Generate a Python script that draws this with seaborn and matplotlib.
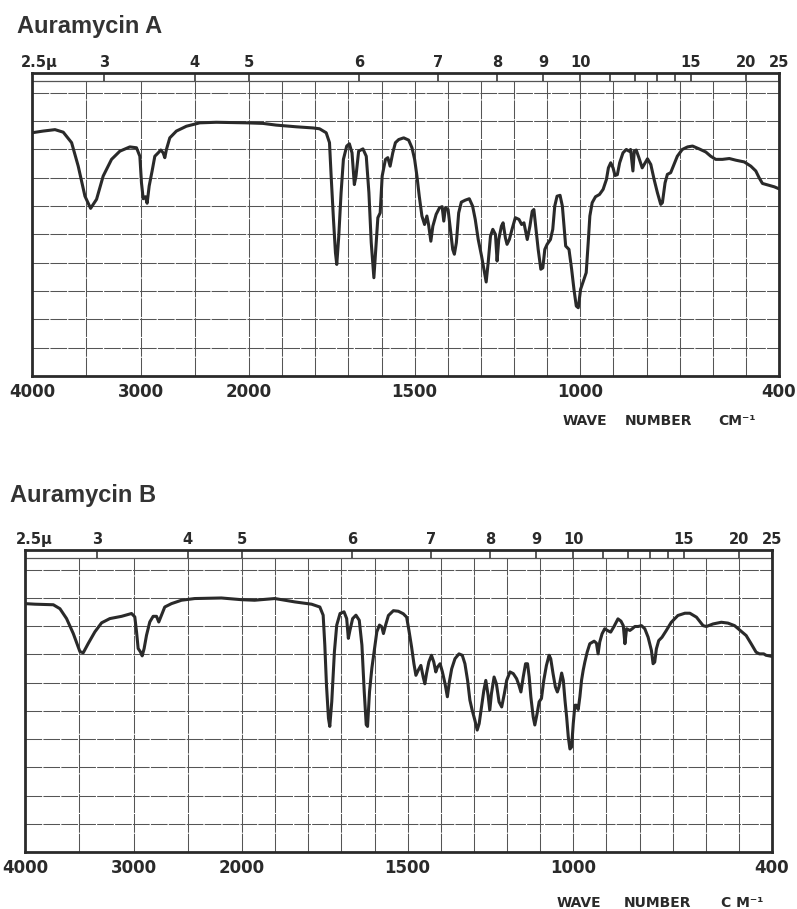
import numpy as np
import pandas as pd
import matplotlib
matplotlib.use("Agg")
import matplotlib.pyplot as plt
import seaborn as sns

# Infrared spectra: wavenumber (cm-1) and percent transmittance
a_wavenumber = [
    4000, 3896, 3788, 3712, 3635, 3574, 3512, 3460, 3405, 3344, 3267, 3190, 3098, 3037,
    3006, 2991, 2975, 2954, 2939, 2920, 2893, 2868, 2837, 2813, 2791, 2776, 2761, 2730,
    2669, 2577, 2454, 2301, 2025, 1958, 1918, 1857, 1807, 1787, 1767, 1757, 1752, 1745,
    1739, 1735, 1729, 1722, 1715, 1705, 1697, 1689, 1682, 1677, 1669, 1656, 1646, 1638,
    1631, 1623, 1616, 1611, 1604, 1598, 1588, 1581, 1574, 1566, 1558, 1548, 1533, 1518,
    1508, 1500, 1493, 1486, 1478, 1470, 1463, 1458, 1451, 1445, 1435, 1425, 1417, 1412,
    1407, 1399, 1392, 1385, 1380, 1374, 1367, 1359, 1347, 1335, 1325, 1317, 1308, 1298,
    1291, 1284, 1278, 1271, 1264, 1256, 1251, 1246, 1238, 1233, 1226, 1221, 1214, 1206,
    1196, 1185, 1177, 1170, 1160, 1152, 1145, 1140, 1135, 1127, 1119, 1113, 1107, 1100,
    1090, 1083, 1077, 1070, 1061, 1054, 1049, 1044, 1034, 1026, 1019, 1012, 1006, 999,
    989, 982, 976, 971, 964, 954, 942, 931, 921, 915, 908, 901, 895, 888, 881, 871, 861,
    853, 848, 841, 837, 831, 823, 813, 804, 797, 787, 777, 767, 757, 752, 744, 737, 727,
    717, 707, 692, 676, 661, 641, 621, 606, 591, 571, 550, 530, 505, 485, 470, 460, 450,
    429, 414, 400,
]
a_transmittance = [
    85.9, 86.5, 87.0, 86.1, 82.4, 74.1, 63.5, 59.2, 62.4, 70.6, 76.5, 79.4, 80.9, 80.6,
    77.6, 68.2, 62.6, 63.3, 61.0, 67.1, 72.4, 77.6, 78.8, 79.8, 78.8, 77.1, 80.0, 84.1,
    86.5, 88.2, 89.4, 89.6, 89.4, 89.2, 88.6, 88.0, 87.6, 87.3, 85.9, 82.4, 70.6, 55.3,
    43.5, 39.4, 49.4, 64.7, 76.5, 81.2, 82.0, 78.8, 67.6, 70.6, 79.4, 80.2, 77.6, 64.7,
    47.1, 34.7, 47.1, 55.9, 57.6, 70.6, 76.5, 77.1, 74.1, 78.8, 82.4, 83.5, 84.1, 83.3,
    80.6, 76.5, 70.6, 63.5, 56.5, 53.5, 56.5, 53.5, 47.6, 52.9, 57.1, 59.4, 59.8, 54.7,
    59.4, 58.8, 51.8, 44.7, 43.0, 47.1, 57.6, 61.4, 62.1, 62.6, 60.0, 55.3, 48.2, 42.4,
    37.7, 33.2, 40.0, 49.4, 51.8, 50.0, 40.6, 48.2, 52.9, 54.1, 48.8, 46.5, 48.2, 51.8,
    55.9, 55.3, 53.5, 54.1, 48.2, 52.9, 58.2, 58.8, 53.5, 44.7, 37.7, 38.2, 44.7, 46.5,
    48.2, 51.8, 60.0, 63.5, 63.8, 60.0, 52.9, 45.9, 44.7, 37.7, 30.6, 24.7, 24.1, 30.6,
    34.1, 36.5, 47.1, 56.5, 61.2, 63.3, 64.1, 65.9, 69.4, 73.5, 75.3, 73.5, 70.8, 71.1,
    75.3, 78.8, 80.0, 79.4, 80.0, 72.4, 79.4, 79.8, 77.1, 73.5, 75.3, 76.7, 74.7, 69.4,
    64.7, 60.6, 61.2, 68.2, 71.2, 71.8, 74.7, 77.6, 80.0, 80.9, 81.2, 80.2, 79.1, 77.6,
    76.5, 76.5, 76.8, 76.2, 75.6, 74.1, 72.4, 70.0, 68.0, 67.3, 66.8, 66.1,
]

b_wavenumber = [
    4000, 3908, 3739, 3678, 3617, 3555, 3494, 3463, 3417, 3356, 3294, 3218, 3110, 3018,
    2988, 2972, 2957, 2936, 2920, 2902, 2880, 2850, 2819, 2788, 2767, 2748, 2712, 2650,
    2558, 2436, 2190, 2006, 1962, 1901, 1840, 1790, 1765, 1755, 1750, 1745, 1739, 1735,
    1729, 1721, 1714, 1704, 1692, 1684, 1679, 1674, 1666, 1656, 1646, 1638, 1631, 1625,
    1621, 1615, 1608, 1600, 1593, 1585, 1578, 1573, 1566, 1558, 1543, 1528, 1513, 1503,
    1496, 1488, 1481, 1475, 1468, 1460, 1453, 1448, 1443, 1436, 1428, 1421, 1415, 1410,
    1402, 1395, 1387, 1380, 1374, 1367, 1357, 1345, 1335, 1327, 1319, 1312, 1305, 1297,
    1290, 1284, 1277, 1270, 1264, 1257, 1252, 1247, 1239, 1232, 1224, 1216, 1208, 1201,
    1191, 1181, 1171, 1164, 1158, 1151, 1144, 1138, 1133, 1128, 1121, 1116, 1109, 1103,
    1096, 1089, 1081, 1073, 1068, 1061, 1054, 1048, 1043, 1035, 1030, 1025, 1020, 1015,
    1010, 1005, 1000, 995, 990, 985, 980, 975, 970, 965, 958, 950, 937, 930, 925, 920,
    913, 905, 897, 887, 877, 865, 856, 849, 844, 839, 829, 822, 814, 804, 794, 784, 774,
    764, 759, 754, 749, 742, 732, 719, 704, 684, 663, 648, 628, 608, 598, 578, 553, 533,
    513, 498, 478, 463, 448, 438, 425, 418, 400,
]
b_transmittance = [
    88.0, 87.8, 87.6, 86.2, 82.7, 77.4, 71.0, 70.6, 73.9, 78.0, 81.2, 82.7, 83.5, 84.5,
    83.3, 78.0, 72.1, 70.9, 69.5, 72.1, 76.8, 81.5, 83.5, 83.5, 81.5, 83.3, 86.8, 88.0,
    89.2, 89.8, 90.0, 89.4, 89.2, 89.8, 88.6, 87.8, 86.8, 83.9, 73.3, 59.2, 47.4, 44.5,
    53.3, 71.0, 80.4, 84.5, 85.1, 82.7, 75.7, 78.6, 82.7, 83.9, 82.1, 73.3, 56.8, 45.1,
    44.5, 56.8, 65.1, 72.1, 78.0, 80.4, 79.8, 77.4, 80.6, 83.8, 85.5, 85.3, 84.4, 83.2,
    78.5, 72.6, 66.7, 62.6, 64.4, 66.1, 62.0, 59.6, 63.2, 67.3, 69.7, 67.3, 63.8, 65.5,
    66.7, 63.8, 59.6, 55.0, 60.3, 64.9, 68.5, 70.2, 69.7, 66.7, 60.8, 53.8, 50.2, 46.7,
    43.2, 45.5, 51.4, 57.2, 60.8, 55.5, 50.2, 56.1, 62.0, 59.6, 53.2, 51.4, 56.1, 60.8,
    63.8, 63.2, 61.4, 59.1, 56.7, 62.0, 66.7, 66.7, 62.0, 55.0, 47.9, 45.0, 49.1, 53.2,
    54.4, 60.8, 66.1, 69.7, 68.5, 63.2, 58.5, 56.7, 58.5, 63.4, 60.8, 53.8, 47.9, 40.8,
    36.5, 37.2, 45.5, 52.0, 52.0, 50.5, 55.0, 60.8, 64.4, 67.3, 70.8, 73.8, 74.7, 74.0,
    70.2, 74.4, 77.3, 79.1, 78.5, 77.9, 79.9, 82.6, 81.8, 80.2, 73.8, 79.1, 78.5, 79.1,
    79.9, 79.9, 80.2, 79.1, 76.1, 71.4, 66.7, 67.3, 72.0, 74.9, 76.1, 78.5, 81.4, 83.8,
    84.6, 84.6, 83.2, 80.2, 79.9, 80.8, 81.4, 81.1, 80.2, 78.7, 76.7, 73.8, 70.8, 70.2,
    70.2, 69.7, 69.3,
]

# Chart-paper rulings and scale labels
axis_wavenumbers = [4000, 3000, 2000, 1500, 1000, 400]
axis_labels = ["4000", "3000", "2000", "1500", "1000", "400"]
grid_wavenumbers = [3500, 3000, 2500, 2000, 1900, 1800, 1700, 1600, 1500, 1400,
                    1300, 1200, 1100, 1000, 900, 800, 700, 600, 500]
grid_transmittance = [10, 20, 30, 40, 50, 60, 70, 80, 90, 100]
micron_marks = [2.5, 3, 4, 5, 6, 7, 8, 9, 10, 11, 12, 13, 14, 15, 20, 25]
micron_labelled = [2.5, 3, 4, 5, 6, 7, 8, 9, 10, 15, 20, 25]
micron_texts = ["2.5µ", "3", "4", "5", "6", "7", "8", "9", "10", "15", "20", "25"]

titles = ["Auramycin A", "Auramycin B"]

INK = "#2a2a2a"
RULE = "#555555"
W, H = 797, 909


# Two-speed chart paper: 4000-2000 cm-1 compressed relative to 2000-400 cm-1
def to_paper(x):
    x = np.asarray(x, dtype=float)
    return np.where(x <= 2000, (x - 400) / 1600 * 530, 530 + (x - 2000) / 2000 * 217)


def from_paper(u):
    u = np.asarray(u, dtype=float)
    return np.where(u <= 530, 400 + u / 530 * 1600, 2000 + (u - 530) / 217 * 2000)


sns.set_style("white")
plt.rcParams["font.family"] = ["DejaVu Sans"]

fig = plt.figure(figsize=(W / 100, H / 100), dpi=100)

panels = [
    dict(box=(32, 73, 779, 376), wn=a_wavenumber, t=a_transmittance,
         title_xy=(17, 33), mu_dx=5.5, words=[(563, "WAVE"), (625, "NUMBER"), (718, "CM⁻¹")],
         words_y=425),
    dict(box=(25, 550, 772, 852), wn=b_wavenumber, t=b_transmittance,
         title_xy=(10, 502), mu_dx=6.5, words=[(557, "WAVE"), (624, "NUMBER"), (721, "C M⁻¹")],
         words_y=907),
]

for title, p in zip(titles, panels):
    x0, y0, x1, y1 = p["box"]
    ax = fig.add_axes([x0 / W, 1 - y1 / H, (x1 - x0) / W, (y1 - y0) / H])
    df = pd.DataFrame({"wavenumber": p["wn"], "transmittance": p["t"]})

    # Ruled grid of the chart paper
    ax.hlines(grid_transmittance, 4000, 400, colors=RULE, linewidth=0.75,
              linestyles=[(0, (16, 1.2))], zorder=1)
    ax.vlines(grid_wavenumbers, 0, 104, colors=RULE, linewidth=0.75,
              linestyles=[(0, (18, 1.0))], zorder=1)
    ax.hlines(104, 4000, 400, colors=RULE, linewidth=0.9, zorder=1)
    ax.vlines([1e4 / m for m in micron_marks], 104, 107, colors=INK, linewidth=1.1, zorder=1)

    sns.lineplot(data=df, x="wavenumber", y="transmittance", ax=ax, color=INK,
                 linewidth=2.2, estimator=None, sort=True, zorder=3)

    ax.set_xscale("function", functions=(to_paper, from_paper))
    ax.set_xlim(4000, 400)
    ax.set_ylim(0, 107)
    ax.set_xlabel("")
    ax.set_ylabel("")

    ax.set_xticks(axis_wavenumbers, axis_labels)
    ax.tick_params(axis="x", length=0, pad=5, labelsize=12, labelcolor=INK)
    for lab in ax.get_xticklabels():
        lab.set_fontweight("bold")
    ax.set_yticks(grid_transmittance)
    ax.tick_params(axis="y", length=3, width=1, direction="out", color=INK, labelleft=False)
    ax.minorticks_off()

    for side in ["left", "right", "top", "bottom"]:
        ax.spines[side].set_visible(True)
        ax.spines[side].set_linewidth(2.0)
        ax.spines[side].set_color(INK)

    # Wavelength scale across the top
    for m, txt in zip(micron_labelled, micron_texts):
        dx = p["mu_dx"] if txt.endswith("µ") else 0
        ax.annotate(txt, xy=(1e4 / m, 1.0), xycoords=("data", "axes fraction"),
                    xytext=(dx, 2.5), textcoords="offset points", ha="center", va="bottom",
                    fontsize=10.5, fontweight="bold", color=INK)

    tx, ty = p["title_xy"]
    fig.text(tx / W, 1 - ty / H, title, fontsize=17, fontweight="bold",
             family="Liberation Sans", color="#333333", va="baseline", ha="left")

    for wx, word in p["words"]:
        fig.text(wx / W, 1 - p["words_y"] / H, word, fontsize=10, fontweight="bold",
                 color=INK, va="baseline", ha="left")

fig.savefig("out.png", dpi=100, facecolor="white")
